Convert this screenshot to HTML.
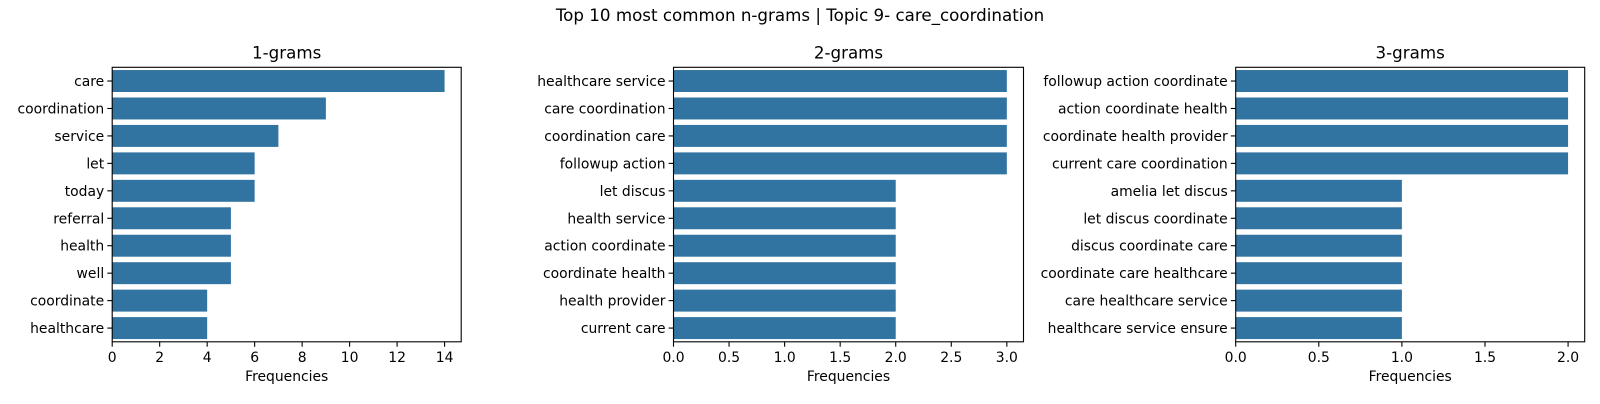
<!DOCTYPE html>
<html><head><meta charset="utf-8"><style>
body{margin:0;background:#fff;width:1600px;height:400px;overflow:hidden;font-family:"DejaVu Sans","Liberation Sans",sans-serif}
</style></head><body>
<svg id="chart" width="1600" height="400" xmlns="http://www.w3.org/2000/svg" font-family="DejaVu Sans, Liberation Sans, sans-serif">
<text x="800" y="21" text-anchor="middle" font-size="16.7">Top 10 most common n-grams | Topic 9- care_coordination</text>
</svg>
<script>
const labels1=["care","coordination","service","let","today","referral","health","well","coordinate","healthcare"];
const values1=[14,9,7,6,6,5,5,5,4,4];
const ticks1=[0,2,4,6,8,10,12,14];
const labels2=["healthcare service","care coordination","coordination care","followup action","let discus","health service","action coordinate","coordinate health","health provider","current care"];
const values2=[3,3,3,3,2,2,2,2,2,2];
const ticks2=[0,0.5,1,1.5,2,2.5,3];
const labels3=["followup action coordinate","action coordinate health","coordinate health provider","current care coordination","amelia let discus","let discus coordinate","discus coordinate care","coordinate care healthcare","care healthcare service","healthcare service ensure"];
const values3=[2,2,2,2,1,1,1,1,1,1];
const ticks3=[0,0.5,1,1.5,2];
const svg=document.getElementById('chart');
const NS="http://www.w3.org/2000/svg";
function mk(tag,attrs,parent){const e=document.createElementNS(NS,tag);for(const k in attrs)e.setAttribute(k,attrs[k]);(parent||svg).appendChild(e);return e;}
function panel(idx,title,labels,values,ticks,left,right){
  const top=67.3,bottom=341.8;
  const g=mk('g',{});
  
  
  const xmax=Math.max(...values)*1.05;
  const xs=v=>left+(v/xmax)*(right-left);
  const slot=(bottom-top)/labels.length;
  const ys=i=>top+slot*i;
  labels.forEach((lab,i)=>{
    const r=mk('rect',{x:xs(0),y:ys(i)+slot*0.1,width:xs(values[i])-xs(0),height:slot*0.8,fill:'#3274a1'},g);
    
    
    mk('line',{x1:left-4.9,x2:left,y1:ys(i)+slot/2,y2:ys(i)+slot/2,stroke:'#000','stroke-width':1.1},g);
    const t=mk('text',{x:left-8,y:ys(i)+slot/2+5,'text-anchor':'end','font-size':13.9},g);
    t.textContent=lab;
    
    
  });
  ticks.forEach(v=>{
    mk('line',{x1:xs(v),x2:xs(v),y1:bottom,y2:bottom+4.9,stroke:'#000','stroke-width':1.1},g);
    const t=mk('text',{x:xs(v),y:bottom+20,'text-anchor':'middle','font-size':13.9},g);
    t.textContent=ticks.some(x=>!Number.isInteger(x))?v.toFixed(1):String(v);
    
    
  });
  const fr=mk('rect',{x:left,y:top,width:right-left,height:bottom-top,fill:'none',stroke:'#000','stroke-width':1.1},g);
  
  
  const tt=mk('text',{x:(left+right)/2,y:58.5,'text-anchor':'middle','font-size':16.7},g);
  tt.textContent=title;
  
  
  const xl=mk('text',{x:(left+right)/2,y:381,'text-anchor':'middle','font-size':13.9},g);
  xl.textContent='Frequencies';
  
  
}
panel(1,'1-grams',labels1,values1,ticks1,112.2,461.2);
panel(2,'2-grams',labels2,values2,ticks2,673.5,1023.5);
panel(3,'3-grams',labels3,values3,ticks3,1235.7,1584.7);
</script>
</body></html>
